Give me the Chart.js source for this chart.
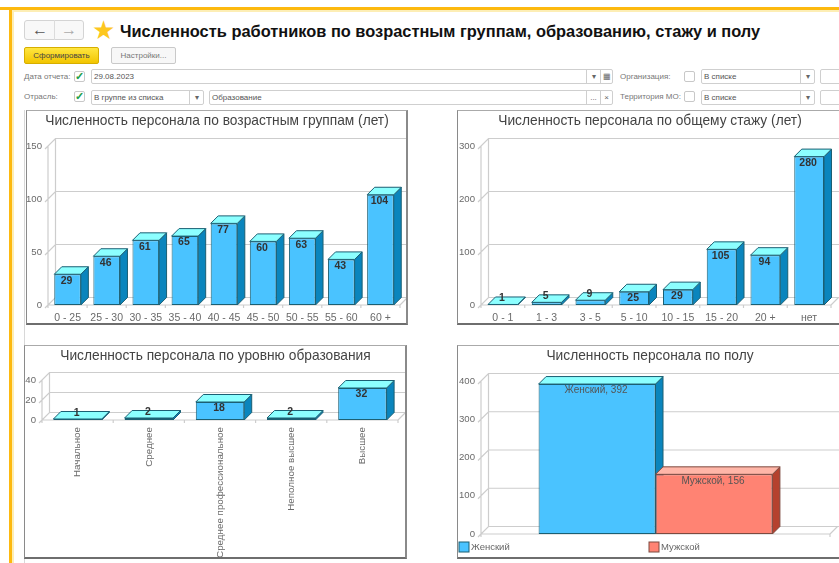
<!DOCTYPE html>
<html>
<head>
<meta charset="utf-8">
<script src="https://cdn.jsdelivr.net/npm/chart.js@4/dist/chart.umd.min.js"></script>
<style>
html, body { margin: 0; padding: 0; background: #fff; overflow: hidden; width: 839px; height: 563px; }
body { font-family: "Liberation Sans", Arial, sans-serif; filter: blur(0.5px); }
.a { position: absolute; box-sizing: border-box; white-space: nowrap; }
.lbl { font-size: 8px; color: #777; line-height: 12px; }
.box { border: 1px solid #cfcfcf; border-radius: 2px; height: 15px; background: #fff; font-size: 8px; color: #555; line-height: 13px; padding-left: 2px; }
.div { width: 1px; background: #cfcfcf; height: 15px; }
.chk { width: 11px; height: 11px; border: 1px solid #c8c8c8; border-radius: 2px; background: #fff; color: #22a04a; font-size: 11px; line-height: 9px; font-weight: bold; text-align: center; }
.btn { border: 1px solid #c9c9c9; border-radius: 2px; height: 17px; font-size: 8px; line-height: 15px; text-align: center; }
.sym { font-size: 8px; color: #666; text-align: center; line-height: 13px; width: 13px; }
.frame { border-style: solid; border-color: #aaa #8a8a8a #6e6e6e #8a8a8a; pointer-events: none; }
</style>
</head>
<body>
<!-- рамка окна -->
<div class="a" style="left:0;top:7px;width:839px;height:3px;background:#fdb90f"></div>
<div class="a" style="left:11px;top:10px;width:828px;height:2px;background:#fdeeb5"></div>
<div class="a" style="left:9px;top:7px;width:3px;height:556px;background:#fdb90f"></div>
<div class="a" style="left:12px;top:10px;width:2px;height:553px;background:#fdeeb5"></div>
<div class="a" style="left:24px;top:110px;width:1px;height:453px;background:#d8d8d8"></div>

<!-- шапка -->
<div class="a" style="left:24px;top:20px;width:60px;height:20px;border:1px solid #d4d4d4;border-radius:3px;background:#f8f8f8"></div>
<div class="a" style="left:54px;top:20px;width:1px;height:20px;background:#dcdcdc"></div>
<div class="a" style="left:30px;top:20px;width:20px;font-size:16px;line-height:19px;color:#555;text-align:center;font-weight:bold">←</div>
<div class="a" style="left:59px;top:20px;width:20px;font-size:16px;line-height:19px;color:#aaa;text-align:center;font-weight:bold">→</div>
<div class="a" style="left:92px;top:16px;font-size:26px;line-height:28px;color:#fdc71f;font-family:'DejaVu Sans'">★</div>
<div class="a" style="left:120px;top:21px;font-size:16.4px;line-height:20px;font-weight:bold;color:#111">Численность работников по возрастным группам, образованию, стажу и полу</div>

<div class="a btn" style="left:24px;top:47px;width:75px;background:linear-gradient(#ffe640,#f2c500);border-color:#d6ae00;color:#444">Сформировать</div>
<div class="a btn" style="left:111px;top:47px;width:65px;background:#f7f7f7;color:#777">Настройки...</div>

<!-- строка 1 -->
<div class="a lbl" style="left:24px;top:71px">Дата отчета:</div>
<div class="a chk" style="left:74px;top:71px">✓</div>
<div class="a box" style="left:91px;top:69px;width:522px">29.08.2023</div>
<div class="a div" style="left:586px;top:69px"></div>
<div class="a div" style="left:600px;top:69px"></div>
<div class="a sym" style="left:587px;top:70px">▾</div>
<div class="a sym" style="left:600px;top:70px">▦</div>
<div class="a lbl" style="left:620px;top:71px">Организация:</div>
<div class="a chk" style="left:684px;top:71px"></div>
<div class="a box" style="left:701px;top:69px;width:114px">В списке</div>
<div class="a div" style="left:800px;top:69px"></div>
<div class="a sym" style="left:801px;top:70px">▾</div>
<div class="a box" style="left:820px;top:69px;width:30px"></div>

<!-- строка 2 -->
<div class="a lbl" style="left:24px;top:91px">Отрасль:</div>
<div class="a chk" style="left:74px;top:91px">✓</div>
<div class="a box" style="left:91px;top:90px;width:113px">В группе из списка</div>
<div class="a div" style="left:189px;top:90px"></div>
<div class="a sym" style="left:190px;top:91px">▾</div>
<div class="a box" style="left:209px;top:90px;width:404px">Образование</div>
<div class="a div" style="left:586px;top:90px"></div>
<div class="a div" style="left:600px;top:90px"></div>
<div class="a sym" style="left:587px;top:91px">...</div>
<div class="a sym" style="left:600px;top:91px">×</div>
<div class="a lbl" style="left:620px;top:91px">Территория МО:</div>
<div class="a chk" style="left:684px;top:91px"></div>
<div class="a box" style="left:701px;top:90px;width:114px">В списке</div>
<div class="a div" style="left:800px;top:90px"></div>
<div class="a sym" style="left:801px;top:91px">▾</div>
<div class="a box" style="left:820px;top:90px;width:30px"></div>

<!-- диаграммы -->
<canvas id="c1" class="a" width="382" height="214" style="left:26px;top:110px"></canvas>
<canvas id="c2" class="a" width="386" height="214" style="left:457px;top:110px"></canvas>
<canvas id="c3" class="a" width="383" height="213" style="left:24px;top:345px"></canvas>
<canvas id="c4" class="a" width="386" height="213" style="left:457px;top:345px"></canvas>
<div class="a frame" style="left:26px;top:110px;width:382px;height:215px;border-width:1px 2px 2px 1px"></div>
<div class="a frame" style="left:457px;top:110px;width:386px;height:215px;border-width:1px 2px 2px 1px"></div>
<div class="a frame" style="left:24px;top:345px;width:383px;height:214px;border-width:1px 2px 2px 1px"></div>
<div class="a frame" style="left:457px;top:345px;width:386px;height:214px;border-width:1px 2px 2px 1px"></div>

<script>
// Данные диаграмм
const vozrastLabels = ["0 - 25", "25 - 30", "30 - 35", "35 - 40", "40 - 45", "45 - 50", "50 - 55", "55 - 60", "60 +"];
const vozrastValues = [29, 46, 61, 65, 77, 60, 63, 43, 104];

const stazhLabels = ["0 - 1", "1 - 3", "3 - 5", "5 - 10", "10 - 15", "15 - 20", "20 +", "нет"];
const stazhValues = [1, 5, 9, 25, 29, 105, 94, 280];

const obrazLabels = ["Начальное", "Среднее", "Среднее профессиональное", "Неполное высшее", "Высшее"];
const obrazValues = [1, 2, 18, 2, 32];

const polLabels = ["Пол"];
const polFemale = [392];
const polMale = [156];

const FONT = '"Liberation Sans", Arial, sans-serif';
const DEPTH = 7.5;
const BLUE = { front: "#4ac3ff", top: "#8cffff", side: "#0a85bd", line: "#1b5f73" };
const RED = { front: "#ff8373", top: "#ffb6a8", side: "#b5412e", line: "#7d4a40" };

function poly(ctx, pts, fill, line) {
    ctx.beginPath();
    pts.forEach((p, i) => i ? ctx.lineTo(p[0], p[1]) : ctx.moveTo(p[0], p[1]));
    ctx.closePath();
    ctx.fillStyle = fill;
    ctx.fill();
    ctx.strokeStyle = line;
    ctx.lineWidth = 1;
    ctx.stroke();
}

// Объёмный вид: стенки, боковые и верхние грани столбцов, подписи
const bar3d = {
    id: "bar3d",
    beforeDatasetsDraw(chart) {
        const ctx = chart.ctx;
        const x = chart.scales.x, y = chart.scales.y;
        const y0 = y.getPixelForValue(0);

        ctx.save();
        ctx.strokeStyle = "#cdcdcd";
        ctx.lineWidth = 1.2;
        ctx.beginPath();
        y.ticks.forEach(t => {
            const py = y.getPixelForValue(t.value);
            ctx.moveTo(x.left - 3, py + 3);
            ctx.lineTo(x.left + DEPTH, py - DEPTH);
            ctx.lineTo(x.right + DEPTH + 10, py - DEPTH);
        });
        ctx.moveTo(x.left, y0);
        ctx.lineTo(x.left, y.top);
        ctx.moveTo(x.left + DEPTH, y0 - DEPTH);
        ctx.lineTo(x.left + DEPTH, y.top - DEPTH);
        ctx.moveTo(x.left, y0);
        ctx.lineTo(x.right, y0);
        ctx.moveTo(x.right, y0 + 3);
        ctx.lineTo(x.right, y0);
        ctx.lineTo(x.right + DEPTH, y0 - DEPTH);
        const n = chart.data.labels.length;
        for (let i = 0; i <= n; i++) {
            const px = x.left + (x.right - x.left) * i / n;
            ctx.moveTo(px, y0);
            ctx.lineTo(px, y0 + 3);
        }
        ctx.stroke();

        chart.data.datasets.forEach((ds, d) => {
            const c = ds.faces;
            chart.getDatasetMeta(d).data.forEach(bar => {
                const b = bar.getProps(["x", "y", "base", "width"], true);
                const l = b.x - b.width / 2, r = b.x + b.width / 2;
                poly(ctx, [[r, b.y], [r + DEPTH, b.y - DEPTH], [r + DEPTH, b.base - DEPTH], [r, b.base]], c.side, c.line);
                poly(ctx, [[l, b.y], [l + DEPTH, b.y - DEPTH], [r + DEPTH, b.y - DEPTH], [r, b.y]], c.top, c.line);
            });
        });
        ctx.restore();
    },
    afterDatasetsDraw(chart, args, opts) {
        const ctx = chart.ctx;
        ctx.save();
        ctx.textAlign = "center";
        ctx.textBaseline = "middle";
        chart.data.datasets.forEach((ds, d) => {
            chart.getDatasetMeta(d).data.forEach((bar, i) => {
                const b = bar.getProps(["x", "y", "base"], true);
                const up = b.base - b.y < 13;
                const text = opts.named ? ds.label + ", " + ds.data[i] : String(ds.data[i]);
                ctx.font = opts.named ? "10px " + FONT : "bold 10.5px " + FONT;
                ctx.fillStyle = opts.named ? "#555" : "#333";
                ctx.fillText(text, b.x - 1, up ? b.y - 6 : b.y + 6.5);
            });
        });
        // Легенда
        if (opts.legendY) {
            chart.data.datasets.forEach((ds, d) => {
                const lx = opts.legendX[d];
                ctx.fillStyle = ds.backgroundColor;
                ctx.fillRect(lx, opts.legendY - 5, 10, 10);
                ctx.strokeStyle = ds.faces.line;
                ctx.strokeRect(lx, opts.legendY - 5, 10, 10);
                ctx.fillStyle = "#666";
                ctx.font = "9.5px " + FONT;
                ctx.textAlign = "left";
                ctx.fillText(ds.label, lx + 12, opts.legendY);
            });
        }
        ctx.restore();
    }
};

function creerGraphique(id, titre, labels, datasets, maxY, step, area, extra) {
    const canvas = document.getElementById(id);
    const cfg = extra || {};
    new Chart(canvas, {
        type: "bar",
        data: { labels: labels, datasets: datasets },
        plugins: [bar3d],
        options: {
            responsive: false,
            animation: false,
            datasets: { bar: cfg.bar || { barPercentage: 0.68, categoryPercentage: 1 } },
            plugins: {
                legend: { display: false },
                tooltip: { enabled: false },
                title: {
                    display: true,
                    text: titre,
                    color: "#444",
                    font: { family: FONT, size: 13.75, weight: "normal" },
                    padding: { top: 3, bottom: area.top - 3 - 16.5 }
                },
                bar3d: { named: !!cfg.named, legendY: cfg.legendY, legendX: cfg.legendX }
            },
            scales: {
                x: {
                    grid: { display: false, drawTicks: false },
                    border: { display: false },
                    ticks: {
                        display: !cfg.noXTicks,
                        color: "#6a6a6a",
                        font: { family: FONT, size: cfg.rotate ? 9.8 : 10.5 },
                        padding: 7,
                        autoSkip: false,
                        minRotation: cfg.rotate || 0,
                        maxRotation: cfg.rotate || 0
                    },
                    afterFit(s) {
                        s.height = canvas.height - area.bottom;
                        s.paddingLeft = 0;
                        // la marge droite passe par l'axe : le titre reste centré sur le cadre
                        s.paddingRight = canvas.width - area.right;
                    }
                },
                y: {
                    min: 0,
                    max: maxY,
                    grid: { display: false, drawTicks: false },
                    border: { display: false },
                    ticks: {
                        stepSize: step,
                        color: "#6a6a6a",
                        font: { family: FONT, size: 9.6 },
                        padding: 6
                    },
                    afterFit(s) {
                        s.width = area.left;
                        s.paddingTop = 0;
                        s.paddingBottom = 0;
                    }
                }
            }
        }
    });
}

creerGraphique("c1", "Численность персонала по возрастным группам (лет)", vozrastLabels,
    [{ label: "Численность", data: vozrastValues, backgroundColor: BLUE.front, borderColor: BLUE.line, borderWidth: 1, borderSkipped: false, faces: BLUE }],
    150, 50, { left: 22, right: 374, top: 36, bottom: 195 });

creerGraphique("c2", "Численность персонала по общему стажу (лет)", stazhLabels,
    [{ label: "Численность", data: stazhValues, backgroundColor: BLUE.front, borderColor: BLUE.line, borderWidth: 1, borderSkipped: false, faces: BLUE }],
    300, 100, { left: 24, right: 374, top: 36, bottom: 195 });

creerGraphique("c3", "Численность персонала по уровню образования", obrazLabels,
    [{ label: "Численность", data: obrazValues, backgroundColor: BLUE.front, borderColor: BLUE.line, borderWidth: 1, borderSkipped: false, faces: BLUE }],
    40, 20, { left: 18, right: 374, top: 35, bottom: 75 }, { rotate: 90 });

creerGraphique("c4", "Численность персонала по полу", polLabels,
    [
        { label: "Женский", data: polFemale, backgroundColor: BLUE.front, borderColor: BLUE.line, borderWidth: 1, borderSkipped: false, faces: BLUE },
        { label: "Мужской", data: polMale, backgroundColor: RED.front, borderColor: RED.line, borderWidth: 1, borderSkipped: false, faces: RED }
    ],
    400, 100, { left: 24, right: 373, top: 36, bottom: 189 },
    { named: true, noXTicks: true, bar: { barPercentage: 1, categoryPercentage: 0.67 }, legendY: 202, legendX: [2, 192] });
</script>
</body>
</html>
